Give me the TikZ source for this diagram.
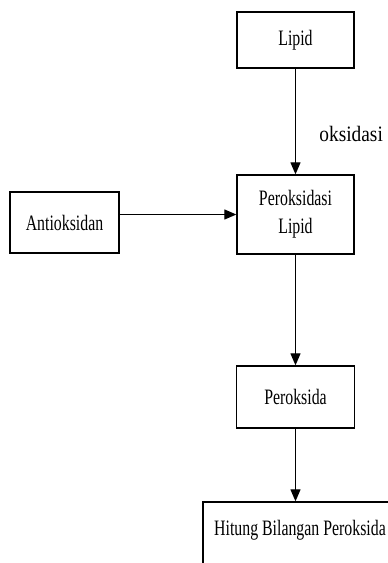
\documentclass[tikz,border=0pt]{standalone}
\usepackage{fontspec}
\setmainfont{Liberation Serif}
\newfontfamily\boxfont{Liberation Serif}[FakeStretch=0.72]
\newfontfamily\labelfont{Liberation Serif}[FakeStretch=0.88]
\usetikzlibrary{arrows.meta,positioning}

\begin{document}
\begin{tikzpicture}[x=1pt,y=-1pt,on grid,>={Triangle[length=12pt,width=10pt]},
    box/.style={draw,line width=1.3pt,align=center,font=\boxfont\fontsize{22}{28}\selectfont}]
    \useasboundingbox (0,0) rectangle (388,563);
    \clip (0,0) rectangle (388,563);
    \node[box,minimum width=117pt,minimum height=56pt] (lipid) at (295.5,40) {Lipid};
    \node[box,minimum width=117pt,minimum height=79pt] (per_lipid) [below=174.5pt of lipid] {Peroksidasi\\Lipid};
    \node[box,minimum width=109pt,minimum height=61pt] (antiox) [left=231pt of per_lipid,yshift=-8pt] {Antioksidan};
    \node[box,minimum width=118pt,minimum height=62pt] (peroksida) [below=182.5pt of per_lipid] {Peroksida};
    \node[box,minimum width=194pt,inner ysep=0pt,text height=33pt,text depth=40pt] (hitung) [below=141.5pt of peroksida,xshift=4.5pt] {Hitung Bilangan Peroksida};
    \path[->,line width=1.2pt]
    (lipid)     edge node[pos=0.62,right=20pt,font=\labelfont\fontsize{22}{26}\selectfont] {oksidasi} (per_lipid)
    (antiox.east |- per_lipid.west) edge (per_lipid.west)
    (per_lipid) edge (peroksida)
    (peroksida) edge (hitung.north -| peroksida)
    ;
\end{tikzpicture}
\end{document}
